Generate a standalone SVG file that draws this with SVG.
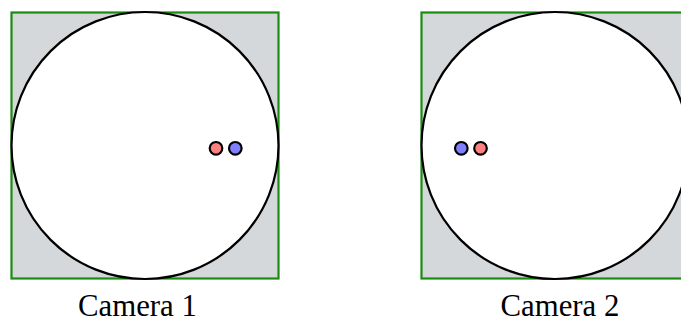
<svg xmlns="http://www.w3.org/2000/svg" width="681" height="323" viewBox="0 0 681 323">
  <style>
    .frame { fill: #d5d8da; stroke: #1a8c12; stroke-width: 2.2; }
    .lens { fill: #ffffff; stroke: #000000; stroke-width: 2.2; }
    .red { fill: #ff8080; stroke: #000000; stroke-width: 2.2; }
    .blue { fill: #8080ff; stroke: #000000; stroke-width: 2.2; }
    .label { font-family: "Liberation Serif", "Times New Roman", serif; font-size: 30.8px; fill: #000000; }
  </style>
  <rect width="681" height="323" fill="#ffffff"/>
  <g id="camera1">
    <rect class="frame" x="11.5" y="12.5" width="267" height="266"/>
    <circle class="lens" cx="145" cy="145.5" r="133.5"/>
    <circle class="red" cx="216" cy="148.3" r="6.3"/>
    <circle class="blue" cx="235.3" cy="148.3" r="6.3"/>
    <text class="label" x="78" y="315.5">Camera 1</text>
  </g>
  <g id="camera2">
    <rect class="frame" x="421.5" y="12.5" width="267" height="266"/>
    <circle class="lens" cx="555" cy="145.5" r="133.5"/>
    <circle class="blue" cx="461.3" cy="148.3" r="6.3"/>
    <circle class="red" cx="480.5" cy="148.3" r="6.3"/>
    <text class="label" x="500.5" y="315.5">Camera 2</text>
  </g>
  <g id="connectors"/>
</svg>
